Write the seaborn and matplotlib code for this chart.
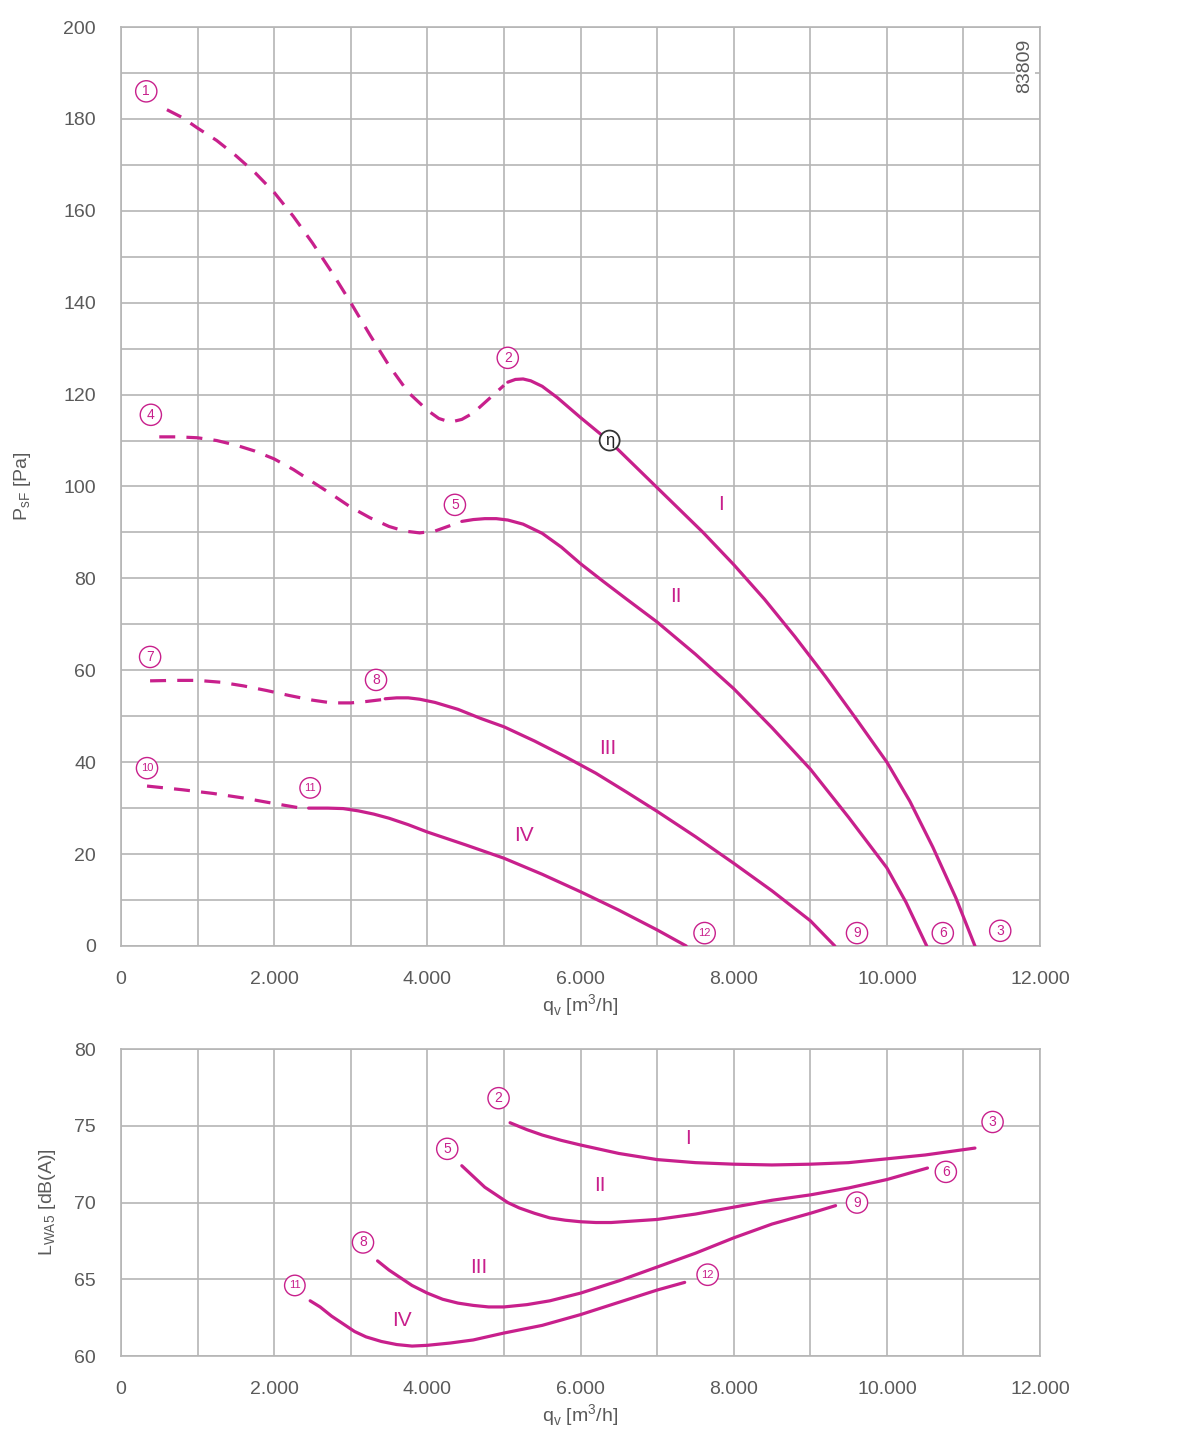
import numpy as np
import matplotlib
matplotlib.use('Agg')
import matplotlib.pyplot as plt
import seaborn as sns

# Kennlinien (Druck) - gestrichelt = instabiler Bereich
p1_dash_x = [600, 800, 1000, 1250, 1500, 1750, 2000, 2250, 2500, 2750, 3000, 3250, 3500,
             3750, 4000, 4150, 4300, 4450, 4600, 4800, 5000]
p1_dash_y = [182, 180.3, 178, 175.3, 172, 168.3, 164, 158.8, 153, 146.7, 140, 133, 126.3,
             120.5, 116.6, 114.8, 114, 114.6, 116, 119, 122]
p1_x = [5050, 5150, 5250, 5350, 5500, 5700, 6000, 6400, 6800, 7200, 7600, 8000, 8400, 8800,
        9200, 9600, 10000, 10300, 10600, 10900, 11150]
p1_y = [122.7, 123.3, 123.4, 123, 121.8, 119.3, 115, 109.5, 103, 96.5, 90, 83, 75.5, 67.3,
        58.6, 49.4, 40, 31.5, 21.5, 10.5, 0]

p2_dash_x = [500, 750, 1000, 1250, 1500, 1750, 2000, 2250, 2500, 2750, 3000, 3250, 3500,
             3700, 3900, 4100, 4350]
p2_dash_y = [110.8, 110.8, 110.6, 110, 109, 107.7, 106, 103.7, 101, 98.3, 95.5, 93.2, 91.3,
             90.3, 89.9, 90.3, 91.8]
p2_x = [4450, 4600, 4750, 4900, 5050, 5250, 5500, 5750, 6000, 6300, 6600, 7000, 7500, 8000,
        8500, 9000, 9500, 10000, 10250, 10520]
p2_y = [92.4, 92.8, 93, 93, 92.7, 91.8, 89.8, 86.8, 83.2, 79.3, 75.5, 70.5, 63.5, 56,
        47.5, 38.5, 28, 17, 9.5, 0]

p3_dash_x = [380, 700, 1000, 1300, 1600, 1900, 2200, 2500, 2750, 3000, 3200, 3400]
p3_dash_y = [57.7, 57.8, 57.8, 57.4, 56.6, 55.6, 54.5, 53.5, 52.9, 52.9, 53.2, 53.6]
p3_x = [3450, 3600, 3750, 3900, 4100, 4400, 4700, 5000, 5400, 5800, 6200, 6600, 7000, 7500,
        8000, 8500, 9000, 9320]
p3_y = [53.8, 54, 54, 53.7, 53, 51.5, 49.5, 47.7, 44.6, 41.2, 37.6, 33.5, 29.3, 23.8,
        18, 12, 5.5, 0]

p4_dash_x = [340, 800, 1200, 1600, 2000, 2350]
p4_dash_y = [34.8, 34, 33.2, 32.2, 31, 30]
p4_x = [2450, 2700, 2900, 3100, 3300, 3500, 3750, 4000, 4500, 5000, 5500, 6000, 6500, 7000, 7380]
p4_y = [30, 30, 29.9, 29.4, 28.7, 27.8, 26.4, 24.8, 22, 19.1, 15.6, 11.8, 7.8, 3.5, 0]

# Schallleistung
l1_x = [5080, 5300, 5500, 5750, 6000, 6500, 7000, 7500, 8000, 8500, 9000, 9500, 10000, 10500, 11150]
l1_y = [75.2, 74.75, 74.4, 74.05, 73.75, 73.2, 72.8, 72.6, 72.5, 72.45, 72.5, 72.6, 72.85, 73.1, 73.55]
l2_x = [4450, 4600, 4750, 4900, 5050, 5200, 5400, 5600, 5800, 6000, 6200, 6400, 6700, 7000,
        7500, 8000, 8500, 9000, 9500, 10000, 10530]
l2_y = [72.4, 71.7, 71.0, 70.5, 70.0, 69.65, 69.3, 69.0, 68.85, 68.75, 68.7, 68.7, 68.8, 68.9,
        69.25, 69.7, 70.15, 70.5, 70.95, 71.5, 72.25]
l3_x = [3350, 3500, 3650, 3800, 4000, 4200, 4400, 4600, 4800, 5000, 5300, 5600, 6000, 6500,
        7000, 7500, 8000, 8500, 9000, 9330]
l3_y = [66.2, 65.6, 65.1, 64.6, 64.1, 63.7, 63.45, 63.3, 63.2, 63.2, 63.35, 63.6, 64.1, 64.9,
        65.8, 66.7, 67.7, 68.6, 69.3, 69.8]
l4_x = [2470, 2600, 2750, 2900, 3050, 3200, 3400, 3600, 3800, 4000, 4300, 4600, 5000, 5500,
        6000, 6500, 7000, 7360]
l4_y = [63.6, 63.2, 62.6, 62.1, 61.6, 61.25, 60.95, 60.75, 60.65, 60.7, 60.85, 61.05, 61.5,
        62.0, 62.7, 63.5, 64.3, 64.8]

# Betriebspunkte (Beschriftung)
top_marks = ['1', '2', '3', '4', '5', '6', '7', '8', '9', '10', '11', '12']
top_marks_x = [330, 5050, 11480, 390, 4360, 10730, 380, 3330, 9610, 340, 2470, 7620]
top_marks_y = [186, 128, 3.3, 115.6, 96, 2.8, 62.9, 57.9, 2.8, 38.7, 34.4, 2.8]
bot_marks = ['2', '3', '5', '6', '8', '9', '11', '12']
bot_marks_x = [4930, 11380, 4260, 10770, 3160, 9610, 2270, 7660]
bot_marks_y = [76.8, 75.25, 73.5, 72.0, 67.4, 70.0, 64.6, 65.3]

roman = ['I', 'II', 'III', 'IV']
top_roman_x = [7830, 7250, 6350, 5260]
top_roman_y = [96, 76, 43, 24]
bot_roman_x = [7400, 6250, 4670, 3670]
bot_roman_y = [74.2, 71.1, 65.8, 62.3]

x_ticks = [0, 2000, 4000, 6000, 8000, 10000, 12000]
x_ticklabels = ['0', '2.000', '4.000', '6.000', '8.000', '10.000', '12.000']

MAG = '#c8208c'
GRID = '#b5b5b5'
TXT = '#5a5a5a'

sns.set_style('white')
plt.rcParams['font.family'] = ['Liberation Sans', 'DejaVu Sans']

fig = plt.figure(figsize=(11.78, 14.44), dpi=100)
ax1 = fig.add_axes([0.1027, 0.3449, 0.7802, 0.6364])
ax2 = fig.add_axes([0.1027, 0.0609, 0.7802, 0.2126])


def kurve(ax, x, y, dashed=False):
    ls = (0, (5, 3.5)) if dashed else '-'
    sns.lineplot(x=x, y=y, ax=ax, color=MAG, linewidth=2.3, linestyle=ls, zorder=3)


def punkt(ax, x, y, t):
    # Nummer im Kreis
    fs = 10 if len(t) == 1 else 8
    pad = 0.26 if len(t) == 1 else 0.4
    ax.text(x, y, t, color=MAG, fontsize=fs, ha='center', va='center', zorder=5,
            bbox=dict(boxstyle=f'circle,pad={pad}', fc='white', ec=MAG, lw=1.0))


def achse(ax, ymin, ymax, ystep, yminor):
    ax.set_xlim(0, 12000)
    ax.set_ylim(ymin, ymax)
    ax.set_xticks(x_ticks)
    ax.set_xticklabels(x_ticklabels)
    ax.set_xticks(np.arange(1000, 12000, 2000), minor=True)
    ax.set_yticks(np.arange(ymin, ymax + 1, ystep))
    if yminor:
        ax.set_yticks(np.arange(ymin + yminor, ymax, ystep), minor=True)
    ax.grid(True, which='both', color=GRID, linewidth=1.2)
    ax.tick_params(which='major', direction='out', length=11, width=1.2, color=GRID,
                   labelsize=14, labelcolor=TXT, pad=7)
    ax.tick_params(which='minor', length=0)
    for s in ax.spines.values():
        s.set_color(GRID)
        s.set_linewidth(1.2)
    ax.set_axisbelow(True)


# oberes Diagramm
kurve(ax1, p1_dash_x, p1_dash_y, True)
kurve(ax1, p1_x, p1_y)
kurve(ax1, p2_dash_x, p2_dash_y, True)
kurve(ax1, p2_x, p2_y)
kurve(ax1, p3_dash_x, p3_dash_y, True)
kurve(ax1, p3_x, p3_y)
kurve(ax1, p4_dash_x, p4_dash_y, True)
kurve(ax1, p4_x, p4_y)
achse(ax1, 0, 200, 20, 10)
ax1.set_xlabel(r'q$_{\mathregular{v}}$ [m$^{\mathregular{3}}$/h]', fontsize=14, color=TXT, labelpad=3)
ax1.set_ylabel(r'P$_{\mathregular{sF}}$ [Pa]', fontsize=14, color=TXT, labelpad=22)

for t, x, y in zip(top_marks, top_marks_x, top_marks_y):
    punkt(ax1, x, y, t)
for t, x, y in zip(roman, top_roman_x, top_roman_y):
    ax1.text(x, y, t, color=MAG, fontsize=15, ha='center', va='center', zorder=5)
ax1.text(6380, 110, 'η', color='#222222', fontsize=12, ha='center', va='center', zorder=6,
         bbox=dict(boxstyle='circle,pad=0.15', fc='white', ec='#333333', lw=1.3))
ax1.text(11800, 191.5, '83809', rotation=90, color=TXT, fontsize=14, ha='center', va='center',
         zorder=6, bbox=dict(fc='white', ec='none', pad=1))

# unteres Diagramm
kurve(ax2, l1_x, l1_y)
kurve(ax2, l2_x, l2_y)
kurve(ax2, l3_x, l3_y)
kurve(ax2, l4_x, l4_y)
achse(ax2, 60, 80, 5, None)
ax2.set_xlabel(r'q$_{\mathregular{v}}$ [m$^{\mathregular{3}}$/h]', fontsize=14, color=TXT, labelpad=3)
ax2.set_ylabel(r'L$_{\mathregular{WA5}}$ [dB(A)]', fontsize=14, color=TXT, labelpad=12)

for t, x, y in zip(bot_marks, bot_marks_x, bot_marks_y):
    punkt(ax2, x, y, t)
for t, x, y in zip(roman, bot_roman_x, bot_roman_y):
    ax2.text(x, y, t, color=MAG, fontsize=15, ha='center', va='center', zorder=5,
             bbox=dict(fc='white', ec='none', pad=0.5) if t == 'III' else None)

fig.savefig('out.png', dpi=100)
